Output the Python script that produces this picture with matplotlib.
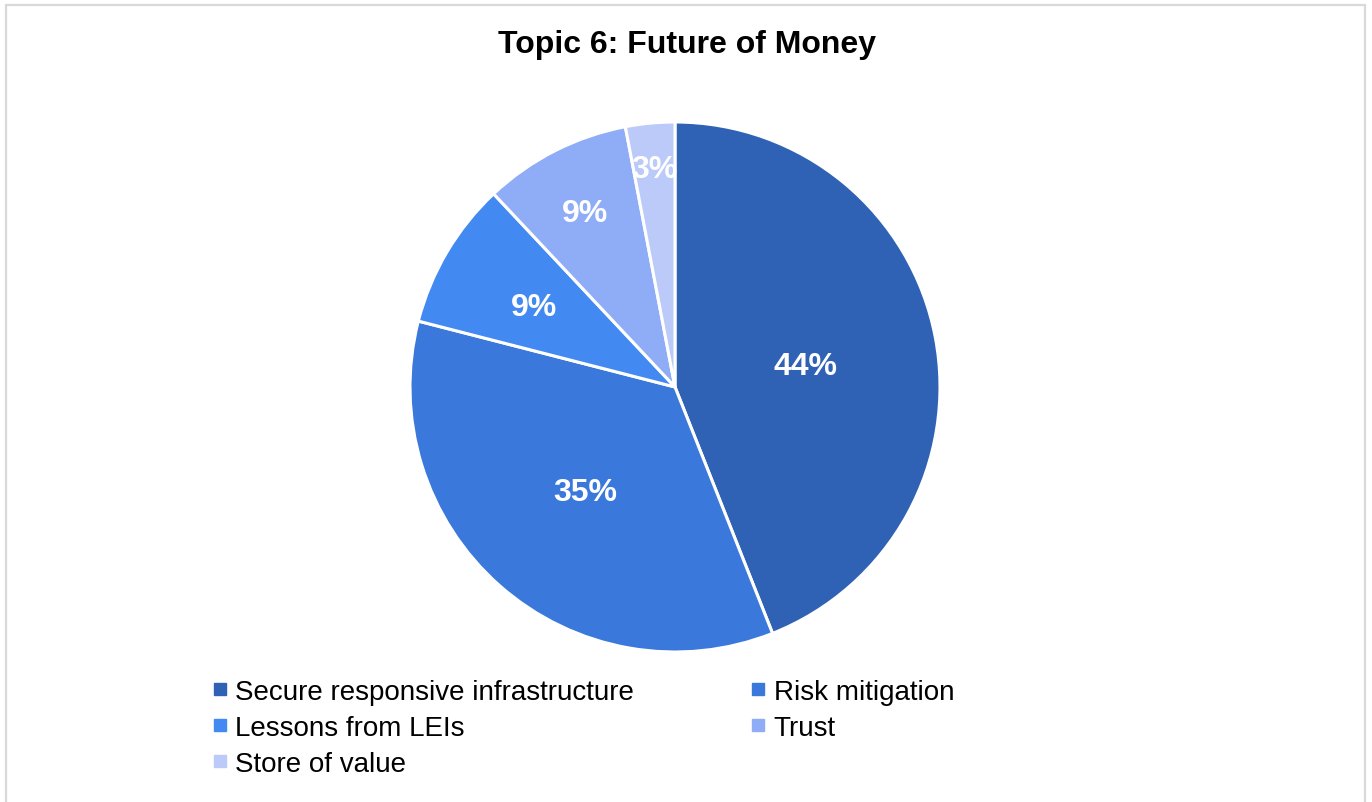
import matplotlib.pyplot as plt
from matplotlib.lines import Line2D
from matplotlib.patches import Rectangle
import numpy as np

plt.rcParams['font.family'] = ['Liberation Sans', 'DejaVu Sans']

topics = ['Secure responsive infrastructure', 'Risk mitigation',
          'Lessons from LEIs', 'Trust', 'Store of value']
shares = [44, 35, 9, 9, 3]
colors = ['#2F62B5', '#3A78DB', '#4289F2', '#8FADF6', '#BBCAF8']
# how far out each percentage label sits, as a fraction of the radius
label_r = [0.5, 0.51, 0.62, 0.75, 0.84]

W, H = 1372, 803
fig = plt.figure(figsize=(W / 100, H / 100), dpi=100)

# thin grey frame round the chart area
fig.patches.append(Rectangle((6 / W, -0.01), (1365 - 6) / W, 1 - 6 / H + 0.01,
                             transform=fig.transFigure, fill=False,
                             edgecolor='#D9D9D9', linewidth=1.6))

cx, cy, r = 675, 388, 265
ax = fig.add_axes([(cx - r) / W, 1 - (cy + r) / H, 2 * r / W, 2 * r / H])
wedges, _ = ax.pie(shares, colors=colors, startangle=90, counterclock=False,
                   radius=1, wedgeprops=dict(edgecolor='white', linewidth=2.2))
ax.set_xlim(-1, 1)
ax.set_ylim(-1, 1)
ax.set_aspect('equal')
ax.axis('off')

for w, s, d in zip(wedges, shares, label_r):
    mid = np.deg2rad((w.theta1 + w.theta2) / 2)
    ax.text(d * np.cos(mid), d * np.sin(mid), f'{s}%', ha='center',
            va='center_baseline', color='white', fontsize=23, fontweight='bold')

fig.text(687 / W, 1 - 45 / H, 'Topic 6: Future of Money', ha='center', va='center',
         fontsize=23, fontweight='bold')

# legend reads row by row, so feed the columns in that order
order = [0, 2, 4, 1, 3]
handles = [Line2D([], [], marker='s', linestyle='none', markersize=8,
                  markerfacecolor=colors[i], markeredgecolor=colors[i]) for i in order]
fig.legend(handles, [topics[i] for i in order], ncol=2, frameon=False,
           loc='upper left', bbox_to_anchor=(213 / W, 1 - 680 / H),
           fontsize=20, handlelength=0.5, handletextpad=0.3,
           columnspacing=4.22, labelspacing=0.36, borderpad=0, borderaxespad=0)

fig.savefig('out.png', dpi=100)
